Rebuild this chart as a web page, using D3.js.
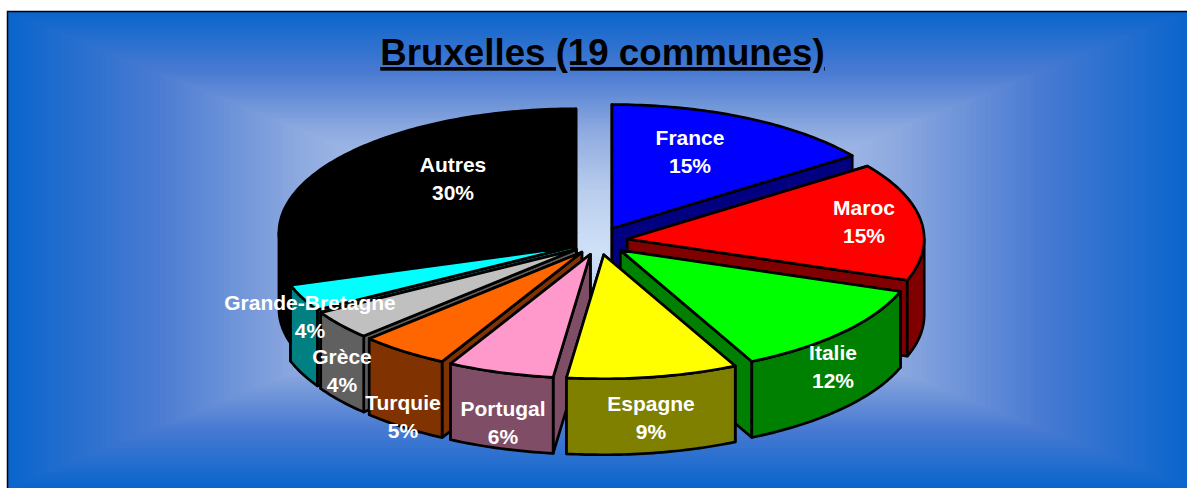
<!DOCTYPE html>
<html><head><meta charset="utf-8">
<style>html,body{margin:0;padding:0;background:#fff}svg{display:block}
.ttl{text-decoration:underline;text-decoration-thickness:4px;text-underline-offset:4px}</style>
<script src="https://cdn.jsdelivr.net/npm/d3@7"></script></head>
<body><svg id="c" width="1187" height="488"></svg>
<script>
const categories = ["France","Maroc","Italie","Espagne","Portugal","Turquie","Grèce","Grande-Bretagne","Autres"];
const values = [15.0,15.4,12.3,9.3,5.8,4.9,3.8,3.5,30.0];
const percentLabels = ["15%","15%","12%","9%","6%","5%","4%","4%","30%"];
const topColors = ["#0000ff","#ff0000","#00ff00","#ffff00","#ff99cc","#ff6600","#c0c0c0","#00ffff","#000000"];
const sideColors = ["#000080","#800000","#008000","#808000","#804d66","#803300","#606060","#008080","#000000"];
const titleText = "Bruxelles (19 communes)";

const W=1187,H=488;
const svg=d3.select("#c").attr("viewBox",`0 0 ${W} ${H}`);

// Background: rectangular ("path") gradient
const bgCx=597.5,bgCy=250,bgHx=590,bgHy=238;
const bgColor=d3.scaleLinear().domain([0,.25,.5,.75,1])
  .range(["#cfe1f6","#b9cded","#90abe0","#4a7bd2","#0b65cc"]).interpolate(d3.interpolateRgb);
const steps=d3.range(120,0,-1).map(i=>i/120);
svg.append("g").selectAll("rect").data(steps).join("rect")
  .attr("x",t=>bgCx-t*bgHx).attr("y",t=>bgCy-t*bgHy)
  .attr("width",t=>2*t*bgHx).attr("height",t=>2*t*bgHy)
  .attr("fill",t=>bgColor(t));
svg.append("rect").attr("x",7.5).attr("y",11.5).attr("width",W).attr("height",H)
  .attr("fill","none").attr("stroke","#000").attr("stroke-width",1.5);

// Pie geometry
const cx=599,cy=241,rx=297,ry=124,depth=76,explode=28.5,explodeY=.49;
const sx=d3.scaleLinear().domain([-1,1]).range([-rx,rx]);
const sy=d3.scaleLinear().domain([-1,1]).range([ry,-ry]);
const arcs=d3.pie().sort(null).value(d=>d)(values).map((a,i)=>{
  const mid=(a.startAngle+a.endAngle)/2;
  return {i,a0:a.startAngle,a1:a.endAngle,mid,
    ax:cx+explode*Math.sin(mid), ay:cy-explode*explodeY*Math.cos(mid)};
}).sort((p,q)=>d3.ascending(-Math.cos(p.mid),-Math.cos(q.mid)));
const line=d3.line().curve(d3.curveLinear);
const pt=(d,th,dz=0)=>[d.ax+sx(Math.sin(th)),d.ay+sy(Math.cos(th))+dz];
const arcPts=(d,a0,a1,dz=0)=>{
  const n=Math.max(2,Math.ceil((a1-a0)*60));
  return d3.range(n+1).map(k=>pt(d,a0+(a1-a0)*k/n,dz));
};
const g=svg.append("g").attr("stroke","#000").attr("stroke-width",2.7).attr("stroke-linejoin","round");
arcs.forEach(d=>{
  const s=g.append("g");
  const side=sideColors[d.i], top=topColors[d.i];
  const apex=[d.ax,d.ay], apexB=[d.ax,d.ay+depth];
  // radial walls: the hidden one first, the visible one over it
  (d.mid>Math.PI?[d.a1,d.a0]:[d.a0,d.a1]).forEach(th=>{
    s.append("path").attr("fill",side)
     .attr("d",line([apex,pt(d,th),pt(d,th,depth),apexB])+"Z");
  });
  // visible part of the rim (front half of the ellipse)
  const lo=Math.max(d.a0,Math.PI/2), hi=Math.min(d.a1,Math.PI*1.5);
  if(hi>lo){
    s.append("path").attr("fill",side)
     .attr("d",line(arcPts(d,lo,hi).concat(arcPts(d,lo,hi,depth).reverse()))+"Z");
  }
  // top face
  s.append("path").attr("fill",top)
   .attr("d",line([apex].concat(arcPts(d,d.a0,d.a1)))+"Z");
});

// Title
svg.append("text").attr("class","ttl").attr("x",602.5).attr("y",65).attr("text-anchor","middle")
  .attr("font-family","'Liberation Sans',Arial,sans-serif").attr("font-weight","bold")
  .attr("font-size",36.7).attr("fill","#000").text(titleText);

// Labels (layout: centres of the two-line labels)
const labelCentres=[[690,152],[864,222],[833,367],[651,418],[503,423],[403,417],[342,371],[310,317],[453,179]];
const lab=svg.append("g").attr("font-family","'Liberation Sans',Arial,sans-serif")
  .attr("font-weight","bold").attr("font-size",21).attr("fill","#fff").attr("text-anchor","middle");
categories.forEach((c,i)=>{
  const [x,y]=labelCentres[i];
  lab.append("text").attr("x",x).attr("y",y-7).text(c);
  lab.append("text").attr("x",x).attr("y",y+21).text(percentLabels[i]);
});
</script></body></html>
